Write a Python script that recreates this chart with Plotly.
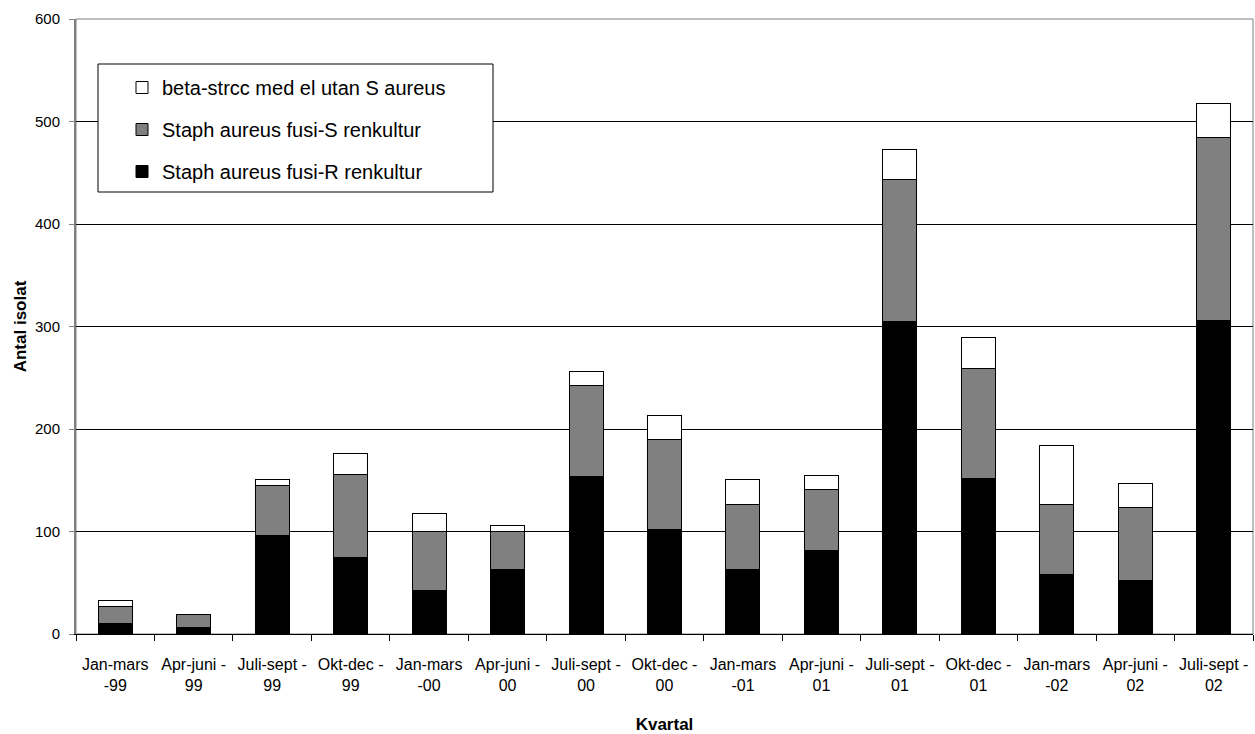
import plotly.graph_objects as go

# Quarterly isolate counts, stacked per quarter
kvartal = [
    "Jan-mars<br>-99", "Apr-juni -<br>99", "Juli-sept -<br>99", "Okt-dec -<br>99",
    "Jan-mars<br>-00", "Apr-juni -<br>00", "Juli-sept -<br>00", "Okt-dec -<br>00",
    "Jan-mars<br>-01", "Apr-juni -<br>01", "Juli-sept -<br>01", "Okt-dec -<br>01",
    "Jan-mars<br>-02", "Apr-juni -<br>02", "Juli-sept -<br>02",
]
fusi_r = [10, 6, 96, 75, 42, 63, 154, 102, 63, 81, 305, 152, 58, 52, 306]
fusi_s = [17, 13, 49, 81, 58, 37, 88, 88, 63, 60, 138, 107, 68, 71, 178]
beta_strcc = [6, 0, 6, 20, 18, 6, 14, 23, 25, 14, 30, 30, 58, 24, 34]

y_ticks = [0, 100, 200, 300, 400, 500, 600]

FONT = "Liberation Sans, Arial, sans-serif"

# (name, values, fill, legend rank) – stacked bottom to top, listed top to bottom
series = [
    ("Staph aureus fusi-R renkultur", fusi_r, "#000000", 3),
    ("Staph aureus fusi-S renkultur", fusi_s, "#808080", 2),
    ("beta-strcc med el utan S aureus", beta_strcc, "#ffffff", 1),
]

fig = go.Figure()
for name, vals, col, rank in series:
    fig.add_trace(go.Bar(
        x=kvartal, y=vals, name=name, legendgroup=name, legendrank=rank,
        marker=dict(color=col, line=dict(color="#000000", width=1)),
    ))

W, H = 1255, 734
ml, mr, mt, mb = 76, 2, 19, 100
pw, ph = W - ml - mr, H - mt - mb

def px_x(x):
    return (x - ml) / pw

def px_y(y):
    return (H - mb - y) / ph

fig.update_layout(
    width=W, height=H,
    margin=dict(l=ml, r=mr, t=mt, b=mb, pad=0),
    barmode="stack",
    bargap=0.567,
    paper_bgcolor="white",
    plot_bgcolor="white",
    font=dict(family=FONT, size=15, color="#000000"),
    showlegend=True,
    legend=dict(
        traceorder="grouped",
        tracegroupgap=13,
        x=px_x(122), y=px_y(68),
        xanchor="left", yanchor="top",
        bgcolor="rgba(0,0,0,0)",
        borderwidth=0,
        font=dict(family=FONT, size=20, color="#000000"),
    ),
    xaxis=dict(
        type="category",
        tickson="boundaries",
        tickangle=0,
        ticks="outside", ticklen=6, tickcolor="#000000", tickwidth=1,
        ticklabelstandoff=16,
        showline=True, linecolor="#000000", linewidth=1,
        showgrid=False,
        tickfont=dict(family=FONT, size=16),
        title=dict(text="<b>Kvartal</b>", font=dict(family=FONT, size=17), standoff=26),
    ),
    yaxis=dict(
        range=[0, 600],
        tickvals=y_ticks,
        ticks="outside", ticklen=5, tickcolor="#808080", tickwidth=1,
        ticklabelstandoff=6,
        showline=True, linecolor="#808080", linewidth=2,
        showgrid=True, gridcolor="#000000", gridwidth=1,
        zeroline=False,
        tickfont=dict(family=FONT, size=15),
        title=dict(text="<b>Antal isolat</b>", font=dict(family=FONT, size=17), standoff=4),
    ),
    shapes=[
        # plot frame (right and top edges)
        dict(type="rect", xref="paper", yref="paper", x0=0, x1=1, y0=0, y1=1,
             line=dict(color="#808080", width=1), layer="below"),
        # legend frame
        dict(type="rect", xref="paper", yref="paper",
             x0=px_x(98), x1=px_x(493), y0=px_y(192), y1=px_y(64),
             line=dict(color="#000000", width=1), fillcolor="#ffffff", layer="above"),
    ],
)

fig.write_html("out.html")
